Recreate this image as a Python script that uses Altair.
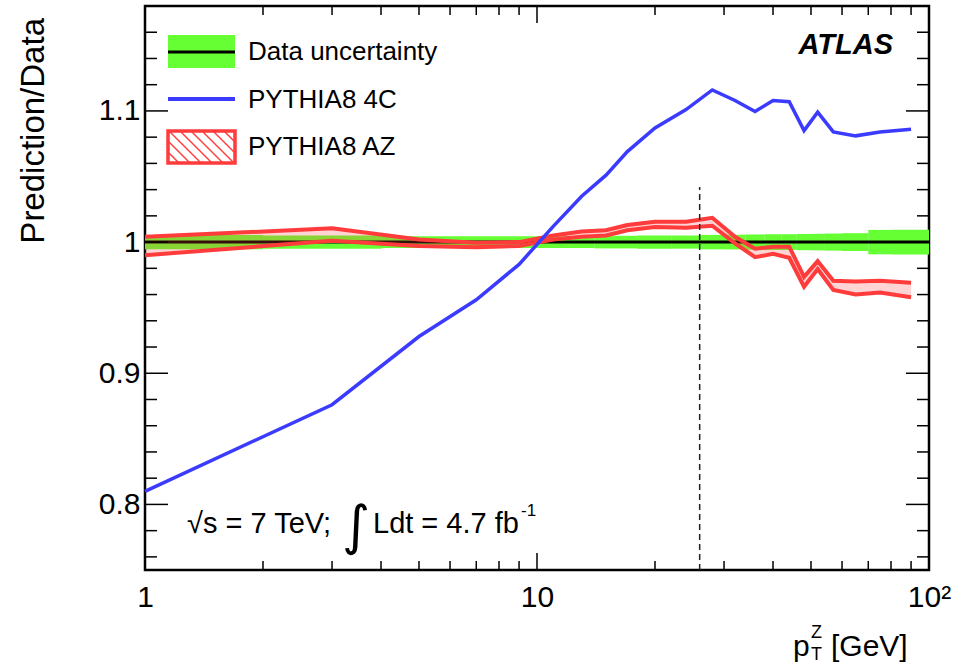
import altair as alt
import pandas as pd

# ---------------- data ----------------
pt = [1, 3, 5, 7, 9, 11, 13, 15, 17, 20, 24, 28, 32, 36, 40, 44, 48, 52, 57, 65, 75, 90]
pythia_4c = [0.810, 0.876, 0.928, 0.956, 0.983, 1.012, 1.035, 1.051, 1.069, 1.087, 1.101,
             1.116, 1.108, 1.0995, 1.108, 1.107, 1.085, 1.099, 1.084, 1.081, 1.084, 1.086]
az_hi = [1.004, 1.0105, 1.002, 0.9995, 1.000, 1.005, 1.008, 1.009, 1.013, 1.0155, 1.0155,
         1.0185, 1.004, 0.995, 0.9965, 0.9965, 0.9735, 0.9855, 0.9705, 0.970, 0.9705, 0.969]
az_lo = [0.990, 1.001, 0.997, 0.996, 0.997, 1.002, 1.004, 1.005, 1.009, 1.0115, 1.011,
         1.0125, 0.999, 0.9885, 0.991, 0.988, 0.966, 0.9795, 0.9635, 0.960, 0.9615, 0.958]

bin_lo = [1, 2, 4, 6, 8, 10, 12, 14, 16, 18, 22, 26, 30, 34, 38, 42, 46, 50, 54, 60, 70, 80]
bin_hi = [2, 4, 6, 8, 10, 12, 14, 16, 18, 22, 26, 30, 34, 38, 42, 46, 50, 54, 60, 70, 80, 100]
data_unc = [0.0055, 0.005, 0.0045, 0.0045, 0.0045, 0.0045, 0.0045, 0.0048, 0.0048, 0.005, 0.005,
            0.0055, 0.0056, 0.0058, 0.006, 0.006, 0.0062, 0.0063, 0.0065, 0.0068, 0.0093, 0.0095]

fit_limit = [26]
fit_line_top = [1.042]

x_major = [1, 10, 100]
x_minor = [2, 3, 4, 5, 6, 7, 8, 9, 20, 30, 40, 50, 60, 70, 80, 90]
y_major = [0.8, 0.9, 1.0, 1.1]
y_minor = [0.76, 0.78, 0.82, 0.84, 0.86, 0.88, 0.92, 0.94, 0.96, 0.98,
           1.02, 1.04, 1.06, 1.08, 1.12, 1.14, 1.16]

legend_labels = ["Data uncertainty", "PYTHIA8 4C", "PYTHIA8 AZ"]

# ---------------- styling ----------------
W, H = 784, 564
FONT = "Liberation Sans"
GREEN = "#66ff33"
BLUE = "#3b3bff"
RED = "#ff3b3b"

xscale = alt.Scale(type="log", domain=[1, 100], nice=False)
yscale = alt.Scale(domain=[0.75, 1.18], nice=False, zero=False)

xaxis = alt.Axis(values=x_major, labelExpr="datum.value == 100 ? '10²' : datum.value == 10 ? '10' : '1'",
                 ticks=False, domain=False, grid=False, title=None, labelFontSize=30,
                 labelFont=FONT, labelColor="black", labelPadding=12, labelFlush=False)
yaxis = alt.Axis(values=y_major, labelExpr="datum.value == 1 ? '1' : format(datum.value, '.1f')",
                 ticks=False, domain=False, grid=False, title=None, labelFontSize=30,
                 labelFont=FONT, labelColor="black", labelPadding=5, labelFlush=False)


def X(field):
    return alt.X(field, type="quantitative", scale=xscale, axis=xaxis)


def Y(field):
    return alt.Y(field, type="quantitative", scale=yscale, axis=yaxis)


band_df = pd.DataFrame({"lo": bin_lo, "hi": bin_hi, "u": data_unc})
band_df["ylo"] = 1 - band_df["u"]
band_df["yhi"] = 1 + band_df["u"]
curve_df = pd.DataFrame({"pt": pt, "c4": pythia_4c, "azhi": az_hi, "azlo": az_lo})
one = pd.DataFrame({"a": [0]})

layers = []

# data uncertainty band (per bin)
layers.append(alt.Chart(band_df).mark_rect(color=GREEN).encode(
    x=X("lo"), x2="hi", y=Y("ylo"), y2="yhi"))

# unity line
layers.append(alt.Chart(pd.DataFrame({"y": [1.0]})).mark_rule(color="black", strokeWidth=3).encode(
    y=Y("y")))

# AZ band
layers.append(alt.Chart(curve_df).mark_area(color=RED, opacity=0.22).encode(
    x=X("pt"), y=Y("azlo"), y2="azhi"))
for f in ["azhi", "azlo"]:
    layers.append(alt.Chart(curve_df).mark_line(color=RED, strokeWidth=4).encode(
        x=X("pt"), y=Y(f)))

# PYTHIA8 4C
layers.append(alt.Chart(curve_df).mark_line(color=BLUE, strokeWidth=3.5).encode(
    x=X("pt"), y=Y("c4")))

# fit-range dashed line
layers.append(alt.Chart(pd.DataFrame({"x": fit_limit, "y": [0.75], "y2": fit_line_top})).mark_rule(
    color="#222222", strokeWidth=1.5, strokeDash=[6, 4]).encode(
    x=X("x"), y=Y("y"), y2="y2"))

# ticks (inside the frame, on all four sides)
xmaj = pd.DataFrame({"v": x_major})
xmin = pd.DataFrame({"v": x_minor})
ymaj = pd.DataFrame({"v": y_major})
ymin = pd.DataFrame({"v": y_minor})
for df, ln in [(xmaj, 17), (xmin, 9)]:
    layers.append(alt.Chart(df).mark_rule(color="black", strokeWidth=1.5).encode(
        x=X("v"), y=alt.value(H), y2=alt.value(H - ln)))
    layers.append(alt.Chart(df).mark_rule(color="black", strokeWidth=1.5).encode(
        x=X("v"), y=alt.value(0), y2=alt.value(ln)))
for df, ln in [(ymaj, 23), (ymin, 12)]:
    layers.append(alt.Chart(df).mark_rule(color="black", strokeWidth=1.5).encode(
        y=Y("v"), x=alt.value(0), x2=alt.value(ln)))
    layers.append(alt.Chart(df).mark_rule(color="black", strokeWidth=1.5).encode(
        y=Y("v"), x=alt.value(W), x2=alt.value(W - ln)))

# ---------------- legend ----------------
LX0, LX1 = 23, 90
layers.append(alt.Chart(one).mark_rect(color=GREEN).encode(
    x=alt.value(LX0), x2=alt.value(LX1), y=alt.value(29), y2=alt.value(62)))
layers.append(alt.Chart(one).mark_rule(color="black", strokeWidth=3).encode(
    x=alt.value(LX0), x2=alt.value(LX1), y=alt.value(46)))
layers.append(alt.Chart(one).mark_rule(color=BLUE, strokeWidth=4).encode(
    x=alt.value(LX0), x2=alt.value(LX1), y=alt.value(93)))
# hatched red box
RY0, RY1 = 125, 157
hatch = []
step = 11
o = LX0 - (RY1 - RY0)
while o < LX1:
    xa, ya = o, RY0
    xb, yb = o + (RY1 - RY0), RY1
    if xa < LX0:
        ya = RY0 + (LX0 - xa)
        xa = LX0
    if xb > LX1:
        yb = RY1 - (xb - LX1)
        xb = LX1
    if xb > xa:
        hatch.append({"x": xa, "x2": xb, "y": ya, "y2": yb})
    o += step
layers.append(alt.Chart(pd.DataFrame(hatch)).mark_rule(color=RED, strokeWidth=1.5).encode(
    x=alt.X("x:Q", scale=None), x2="x2:Q", y=alt.Y("y:Q", scale=None), y2="y2:Q"))
layers.append(alt.Chart(one).mark_rect(fill=None, fillOpacity=0, stroke=RED, strokeWidth=3.5).encode(
    x=alt.value(LX0), x2=alt.value(LX1), y=alt.value(RY0), y2=alt.value(RY1)))
for lab, yy in zip(legend_labels, [46, 94, 141]):
    layers.append(alt.Chart(one).mark_text(text=lab, font=FONT, fontSize=26, align="left",
                                           baseline="middle", color="black").encode(
        x=alt.value(103), y=alt.value(yy)))

# ATLAS label
layers.append(alt.Chart(one).mark_text(text="ATLAS", font=FONT, fontSize=29, fontWeight="bold",
                                       fontStyle="italic", align="right", baseline="middle",
                                       color="black").encode(x=alt.value(748), y=alt.value(39)))

# energy / luminosity label
layers.append(alt.Chart(one).mark_text(text="√s = 7 TeV;", font=FONT, fontSize=29, align="left",
                                       baseline="alphabetic", color="black").encode(
    x=alt.value(42), y=alt.value(527)))
layers.append(alt.Chart(one).mark_text(text="∫", font="DejaVu Sans", fontSize=54, align="left",
                                       baseline="alphabetic", color="black").encode(
    x=alt.value(197), y=alt.value(538)))
layers.append(alt.Chart(one).mark_text(text="Ldt = 4.7 fb", font=FONT, fontSize=29, align="left",
                                       baseline="alphabetic", color="black").encode(
    x=alt.value(228), y=alt.value(527)))
layers.append(alt.Chart(one).mark_text(text="-1", font=FONT, fontSize=17, align="left",
                                       baseline="alphabetic", color="black").encode(
    x=alt.value(376), y=alt.value(510)))

# axis titles
layers.append(alt.Chart(one).mark_text(text="Prediction/Data", font=FONT, fontSize=33, angle=270,
                                       align="right", baseline="alphabetic", color="black").encode(
    x=alt.value(-101), y=alt.value(12)))
layers.append(alt.Chart(one).mark_text(text="p", font=FONT, fontSize=30, align="left",
                                       baseline="alphabetic", color="black").encode(
    x=alt.value(648), y=alt.value(650)))
layers.append(alt.Chart(one).mark_text(text="Z", font=FONT, fontSize=18, align="left",
                                       baseline="alphabetic", color="black").encode(
    x=alt.value(666), y=alt.value(632)))
layers.append(alt.Chart(one).mark_text(text="T", font=FONT, fontSize=18, align="left",
                                       baseline="alphabetic", color="black").encode(
    x=alt.value(666), y=alt.value(654)))
layers.append(alt.Chart(one).mark_text(text="[GeV]", font=FONT, fontSize=30, align="left",
                                       baseline="alphabetic", color="black").encode(
    x=alt.value(686), y=alt.value(650)))

chart = alt.layer(*layers).properties(
    width=W, height=H,
    padding={"left": 145, "top": 6, "right": 34, "bottom": 102},
    autosize=alt.AutoSizeParams(type="none"),
    background="white",
).configure_view(stroke="black", strokeWidth=2.5)

chart.save("out.html", embed_options={"renderer": "svg", "actions": False})
